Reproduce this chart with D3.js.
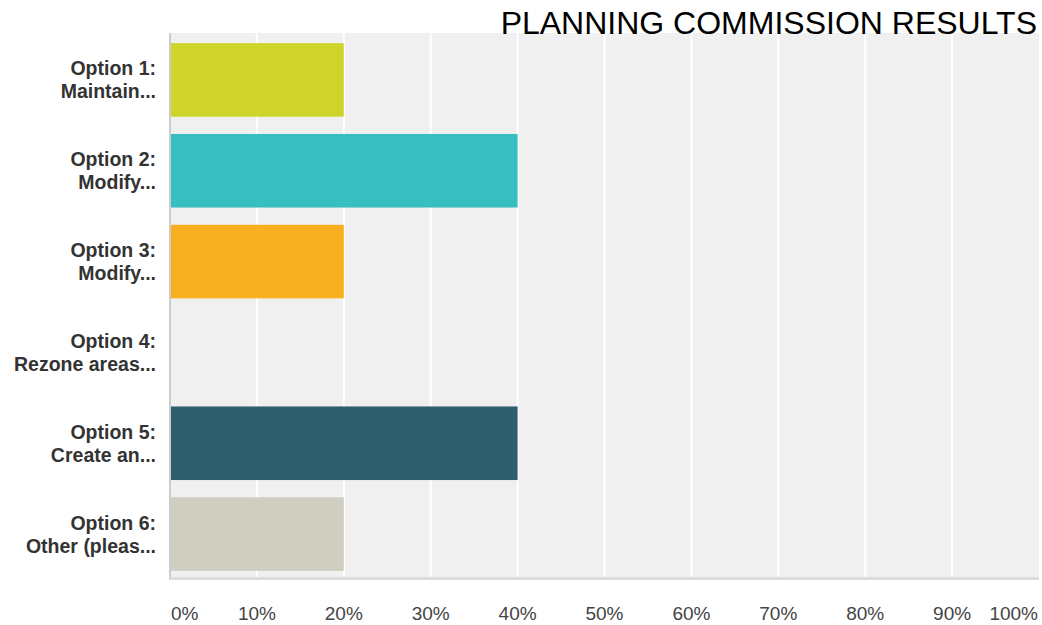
<!DOCTYPE html>
<html>
<head>
<meta charset="utf-8">
<script src="https://cdn.jsdelivr.net/npm/d3@7"></script>
<style>
  html, body { margin: 0; padding: 0; background: #ffffff; }
  svg { display: block; }
</style>
</head>
<body>
<svg id="chart" width="1042" height="625"></svg>
<script>
// Survey answers, share of respondents (%)
const categories = [
  ["Option 1:", "Maintain..."],
  ["Option 2:", "Modify..."],
  ["Option 3:", "Modify..."],
  ["Option 4:", "Rezone areas..."],
  ["Option 5:", "Create an..."],
  ["Option 6:", "Other (pleas..."]
];
const values = [20, 40, 20, 0, 40, 20];
const barColors = ["#cfd42b", "#37bec1", "#f8b020", "#6c7a89", "#2f5f6c", "#d0cec0"];
const tickValues = [0, 10, 20, 30, 40, 50, 60, 70, 80, 90, 100];
const tickLabels = ["0%", "10%", "20%", "30%", "40%", "50%", "60%", "70%", "80%", "90%", "100%"];
const title = "PLANNING COMMISSION RESULTS";

const svg = d3.select("#chart");
const plot = { left: 170, right: 1039, top: 33, bottom: 580 };

const x = d3.scaleLinear().domain([0, 100]).range([plot.left, plot.right]);
const y = d3.scaleBand()
  .domain(d3.range(categories.length))
  .range([plot.top + 1.5, plot.bottom - 0.5])
  .paddingInner(0.19)
  .paddingOuter(0.095);

// plot background
svg.append("rect")
  .attr("x", plot.left).attr("y", plot.top)
  .attr("width", plot.right - plot.left).attr("height", plot.bottom - plot.top)
  .attr("fill", "#f0f0f0");

// vertical gridlines
svg.append("g")
  .selectAll("line")
  .data(tickValues.filter(v => v > 0 && v < 100))
  .join("line")
  .attr("x1", d => x(d)).attr("x2", d => x(d))
  .attr("y1", plot.top).attr("y2", plot.bottom - 3)
  .attr("stroke", "#ffffff")
  .attr("stroke-width", 2);

// bars
svg.append("g")
  .selectAll("rect")
  .data(values)
  .join("rect")
  .attr("x", x(0))
  .attr("y", (d, i) => y(i))
  .attr("width", d => x(d) - x(0))
  .attr("height", y.bandwidth())
  .attr("fill", (d, i) => barColors[i]);

// left axis line and bottom border
svg.append("line")
  .attr("x1", plot.left).attr("x2", plot.left)
  .attr("y1", plot.top).attr("y2", plot.bottom)
  .attr("stroke", "#cccccc").attr("stroke-width", 2);
svg.append("line")
  .attr("x1", plot.left).attr("x2", plot.right)
  .attr("y1", plot.bottom - 1.5).attr("y2", plot.bottom - 1.5)
  .attr("stroke", "#dcdcdc").attr("stroke-width", 3);

// category labels
const labels = svg.append("g")
  .selectAll("text")
  .data(categories)
  .join("text")
  .attr("text-anchor", "end")
  .attr("font-family", "Liberation Sans, Arial, sans-serif")
  .attr("font-weight", "bold")
  .attr("font-size", 19.5)
  .attr("fill", "#333333");
labels.each(function (lines, i) {
  const cy = y(i) + y.bandwidth() / 2;
  const t = d3.select(this);
  t.append("tspan").attr("x", 156).attr("y", cy - 4.5).text(lines[0]);
  t.append("tspan").attr("x", 156).attr("y", cy + 18.5).text(lines[1]);
});

// x tick labels (end labels kept inside the plot width)
svg.append("g")
  .selectAll("text")
  .data(tickValues)
  .join("text")
  .attr("x", (d, i) => i === 0 ? x(d) + 1 : (i === tickValues.length - 1 ? x(d) - 1 : x(d)))
  .attr("y", 620)
  .attr("text-anchor", (d, i) => i === 0 ? "start" : (i === tickValues.length - 1 ? "end" : "middle"))
  .attr("font-family", "Liberation Sans, Arial, sans-serif")
  .attr("font-size", 19)
  .attr("fill", "#444444")
  .text((d, i) => tickLabels[i]);

// title
svg.append("text")
  .attr("x", 1037).attr("y", 34)
  .attr("text-anchor", "end")
  .attr("font-family", "Liberation Sans, Arial, sans-serif")
  .attr("font-size", 32)
  .attr("fill", "#000000")
  .text(title);
</script>
</body>
</html>
